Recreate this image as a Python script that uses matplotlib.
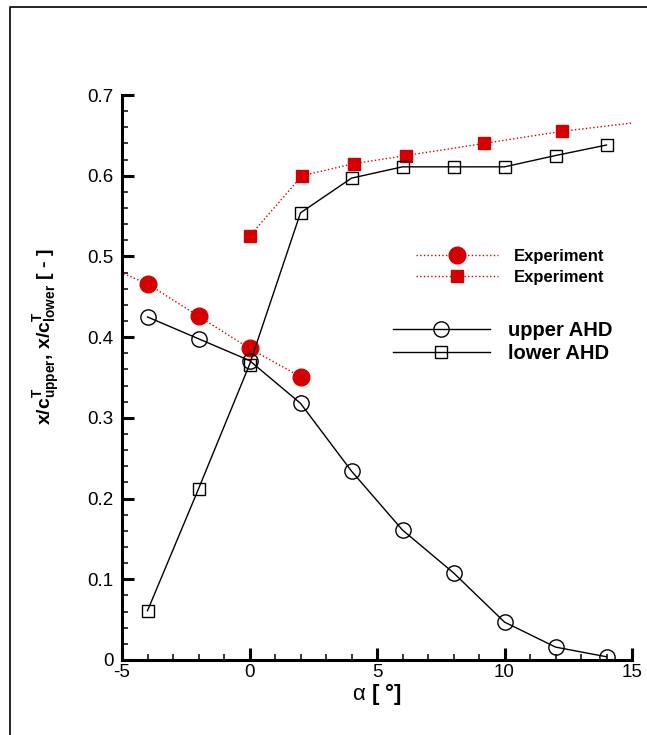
import matplotlib
matplotlib.use("Agg")
import matplotlib.pyplot as plt
from matplotlib.lines import Line2D
from matplotlib.ticker import MultipleLocator

plt.rcParams["font.family"] = ["Liberation Sans", "DejaVu Sans"]
plt.rcParams["mathtext.fontset"] = "custom"
plt.rcParams["mathtext.rm"] = "Liberation Sans"
plt.rcParams["mathtext.bf"] = "Liberation Sans:bold"
plt.rcParams["mathtext.it"] = "Liberation Sans:italic"

# Transition location vs. angle of attack
alpha_sim = [-4, -2, 0, 2, 4, 6, 8, 10, 12, 14]
upper_ahd = [0.425, 0.398, 0.371, 0.318, 0.234, 0.161, 0.108, 0.047, 0.016, 0.004]
lower_ahd = [0.061, 0.212, 0.366, 0.554, 0.597, 0.611, 0.611, 0.611, 0.625, 0.638]

# Experimental data (first/last entries lie outside the plotted range)
alpha_exp_upper = [-6, -4, -2, 0, 2]
exp_upper = [0.493, 0.466, 0.426, 0.386, 0.351]
alpha_exp_lower = [0, 2.06, 4.1, 6.14, 9.2, 12.25, 16]
exp_lower = [0.525, 0.600, 0.615, 0.625, 0.640, 0.655, 0.669]

RED = "#d40000"

fig = plt.figure(figsize=(6.47, 7.35), dpi=100)
ax = fig.add_axes([122 / 647, 1 - 660 / 735, 510 / 647, 565 / 735])

l_exp_u, = ax.plot(alpha_exp_upper, exp_upper, ls=":", lw=1.0, color=RED,
                   marker="o", ms=12, mfc=RED, mec=RED, label="Experiment")
l_exp_l, = ax.plot(alpha_exp_lower, exp_lower, ls=":", lw=1.0, color=RED,
                   marker="s", ms=8.5, mfc=RED, mec=RED, label="Experiment")
l_up, = ax.plot(alpha_sim, upper_ahd, ls="-", lw=1.0, color="black",
                marker="o", ms=11, mfc="none", mec="black", mew=1.0, label="upper AHD")
l_lo, = ax.plot(alpha_sim, lower_ahd, ls="-", lw=1.0, color="black",
                marker="s", ms=8.5, mfc="none", mec="black", mew=1.0, label="lower AHD")

ax.set_xlim(-5, 15)
ax.set_ylim(0, 0.7)
ax.xaxis.set_major_locator(MultipleLocator(5))
ax.xaxis.set_minor_locator(MultipleLocator(1))
ax.yaxis.set_major_locator(MultipleLocator(0.1))
ax.yaxis.set_minor_locator(MultipleLocator(0.02))
ax.yaxis.set_major_formatter(plt.FuncFormatter(lambda v, p: "0" if abs(v) < 1e-9 else f"{v:.1f}"))
ax.xaxis.set_major_formatter(plt.FuncFormatter(lambda v, p: f"{v:g}".replace("\u2212", "-")))

for s in ("top", "right"):
    ax.spines[s].set_visible(False)
for s in ("left", "bottom"):
    ax.spines[s].set_linewidth(2.2)
ax.tick_params(which="major", direction="in", length=8.5, width=2.2, labelsize=13.5, pad=6)
ax.tick_params(which="minor", direction="in", length=4.5, width=1.1)
ax.tick_params(axis="x", which="major", pad=3)

ax.set_xlabel(r"$\mathrm{\alpha}$ [ °]", fontsize=16, fontweight="bold", labelpad=0)
ax.set_ylabel(r"$\mathbf{x/c^{T}_{upper}}$, $\mathbf{x/c^{T}_{lower}}$ [ - ]",
              fontsize=14, fontweight="bold")
ax.yaxis.set_label_coords(-0.118, 0.572)

leg1 = ax.legend(handles=[l_exp_u, l_exp_l], loc="center left",
                 bbox_to_anchor=(416 / 647, 1 - 267 / 735), bbox_transform=fig.transFigure,
                 frameon=False, handlelength=4.9, handletextpad=0.95, labelspacing=0.35,
                 prop={"weight": "bold", "size": 12}, borderpad=0, borderaxespad=0)
ax.add_artist(leg1)
ax.legend(handles=[l_up, l_lo], loc="center left",
          bbox_to_anchor=(393 / 647, 1 - 342 / 735), bbox_transform=fig.transFigure,
          frameon=False, handlelength=4.8, handletextpad=0.9, labelspacing=0.2,
          prop={"weight": "bold", "size": 14.5}, borderpad=0, borderaxespad=0)

# Page frame (left and top edges)
fig.add_artist(Line2D([9.5 / 647, 9.5 / 647, 1.0], [0.0, 1 - 6.5 / 735, 1 - 6.5 / 735],
                      transform=fig.transFigure, color="black", lw=1.2))

fig.savefig("out.png", dpi=100)
